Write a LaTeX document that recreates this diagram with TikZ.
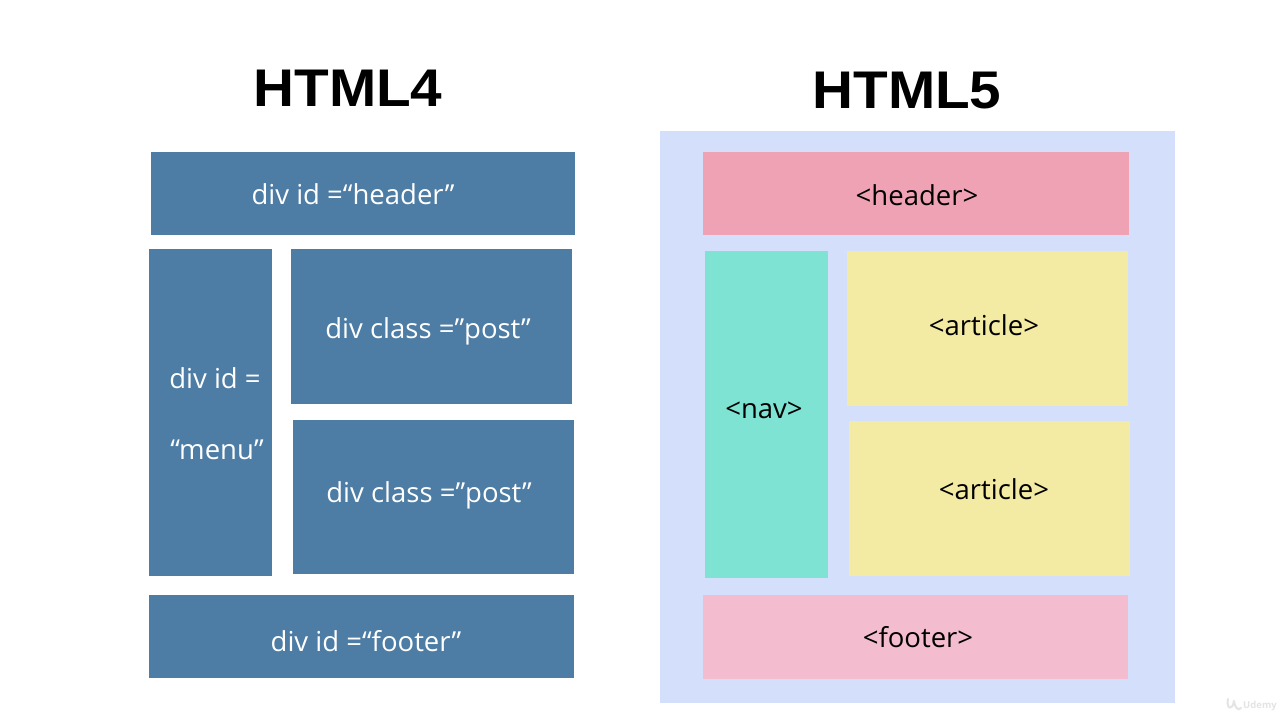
\documentclass[tikz,border=0pt]{standalone}
\usepackage{fontspec}
\setmainfont{Open Sans}
\newfontfamily\titlefont[FakeStretch=1.07]{Liberation Sans}
\definecolor{steel}{HTML}{4D7CA4}
\definecolor{panel}{HTML}{D4DFFB}
\definecolor{hdr}{HTML}{F0A2B5}
\definecolor{navc}{HTML}{7FE3D4}
\definecolor{artc}{HTML}{F3EBA3}
\definecolor{ftr}{HTML}{F3BDCF}
\definecolor{wm}{HTML}{E4E4E4}
\tikzset{x=1pt,y=-1pt,
 titletext/.style={font=\titlefont\bfseries\fontsize{53}{60}\selectfont,text=black,inner sep=0pt},
 oldtext/.style={font=\fontsize{27.5}{32}\selectfont,text=white,inner sep=0pt},
 newtext/.style={font=\fontsize{27.5}{32}\selectfont,text=black,inner sep=0pt},
 wmtext/.style={font=\fontsize{9.5}{12}\selectfont\bfseries,text=wm,inner sep=0pt}}
\begin{document}
\begin{tikzpicture}
\useasboundingbox (0,0) rectangle (1280,720);
\fill[white] (0,0) rectangle (1280,720);
\node[titletext] (t4) at (348,88.5) {HTML4};
\node[titletext] (t5) at (907,90.5) {HTML5};
% HTML4
\fill[steel] (151,152) rectangle (575,235);
\fill[steel] (149,249) rectangle (272,576);
\fill[steel] (291,249) rectangle (572,404);
\fill[steel] (293,420) rectangle (574,574);
\fill[steel] (149,595) rectangle (574,678);
\node[oldtext] (h4) at (353,194) {div id =“header”};
\node[oldtext] (m1) at (215,378) {div id =};
\node[oldtext] (m2) at (217,450) {“menu”};
\node[oldtext] (p1) at (428,331) {div class =”post”};
\node[oldtext] (p2) at (429,495) {div class =”post”};
\node[oldtext] (f4) at (366,641) {div id =“footer”};
% HTML5
\fill[panel] (660,131) rectangle (1175,703);
\fill[hdr] (703,152) rectangle (1129,235);
\fill[navc] (705,251) rectangle (828,578);
\fill[artc] (847,251) rectangle (1128,406);
\fill[artc] (849,421) rectangle (1130,576);
\fill[ftr] (703,595) rectangle (1128,679);
\node[newtext] (h5) at (917,195) {<header>};
\node[newtext] (n5) at (764,410) {<nav>};
\node[newtext] (a1) at (984,325) {<article>};
\node[newtext] (a2) at (994,489) {<article>};
\node[newtext] (f5) at (918,637) {<footer>};
\node[wmtext] (wm) at (1260,706) {Udemy};
\draw[wm,line width=2pt,line cap=round] (1228,699) .. controls (1226,708) and (1232,712) .. (1234,701) (1234,701) .. controls (1235,708) and (1238,711) .. (1241,708);
\end{tikzpicture}
\end{document}
